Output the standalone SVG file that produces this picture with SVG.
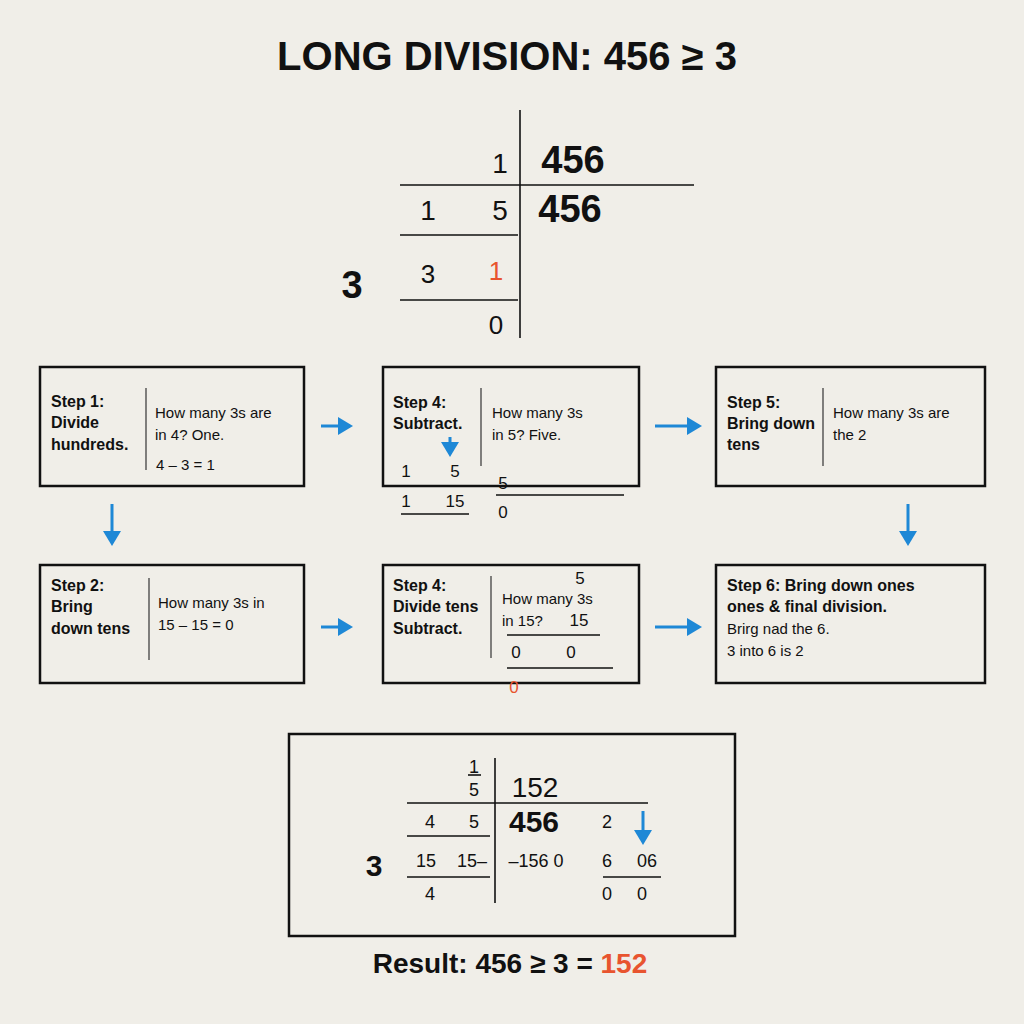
<svg xmlns="http://www.w3.org/2000/svg" width="1024" height="1024" viewBox="0 0 1024 1024">
<defs>
<style>
text{font-family:"Liberation Sans",Arial,sans-serif;fill:#111}
.b{font-weight:bold}
.box{fill:none;stroke:#111;stroke-width:2.5}
.ln{stroke:#111;stroke-width:1.6}
.sep{stroke:#333;stroke-width:1.2}
.arr{stroke:#1e88d6;stroke-width:3;fill:none;marker-end:url(#ah)}
.st{font-size:16px;font-weight:bold}
.tx{font-size:15px}
.red{fill:#e8542f}
</style>
<marker id="ah" markerWidth="6" markerHeight="6" refX="4" refY="3" orient="auto" markerUnits="strokeWidth"><path d="M0,0 L5,3 L0,6 z" fill="#1e88d6"/></marker>
</defs>
<rect width="1024" height="1024" fill="#f0eee8"/>
<text x="507" y="70" text-anchor="middle" class="b" font-size="40">LONG DIVISION: 456 ≥ 3</text>

<g id="top-division">
<line class="ln" x1="520" y1="110" x2="520" y2="338"/>
<line class="ln" x1="400" y1="185" x2="694" y2="185"/>
<line class="ln" x1="400" y1="235" x2="518" y2="235"/>
<line class="ln" x1="400" y1="300" x2="518" y2="300"/>
<text x="500" y="173" font-size="28" text-anchor="middle">1</text>
<text x="573" y="173" font-size="38" class="b" text-anchor="middle">456</text>
<text x="428" y="220" font-size="28" text-anchor="middle">1</text>
<text x="500" y="220" font-size="28" text-anchor="middle">5</text>
<text x="570" y="222" font-size="38" class="b" text-anchor="middle">456</text>
<text x="352" y="298" font-size="38" class="b" text-anchor="middle">3</text>
<text x="428" y="283" font-size="26" text-anchor="middle">3</text>
<text x="496" y="280" font-size="26" text-anchor="middle" class="red">1</text>
<text x="496" y="334" font-size="26" text-anchor="middle">0</text>
</g>

<g id="step1">
<rect class="box" x="40" y="367" width="264" height="119"/>
<line class="sep" x1="146" y1="388" x2="146" y2="470"/>
<text class="st" x="51" y="407">Step 1:</text>
<text class="st" x="51" y="428">Divide</text>
<text class="st" x="51" y="450">hundreds.</text>
<text class="tx" x="155" y="418">How many 3s are</text>
<text class="tx" x="155" y="440">in 4? One.</text>
<text class="tx" x="156" y="470" font-size="13">4 – 3 = 1</text>
</g>

<g id="step4a">
<rect class="box" x="383" y="367" width="256" height="119"/>
<line class="sep" x1="481" y1="388" x2="481" y2="466"/>
<text class="st" x="393" y="408">Step 4:</text>
<text class="st" x="393" y="429">Subtract.</text>
<text class="tx" x="492" y="418">How many 3s</text>
<text class="tx" x="492" y="440">in 5? Five.</text>
<text x="406" y="477" font-size="17" text-anchor="middle">1</text>
<text x="455" y="477" font-size="17" text-anchor="middle">5</text>
<text x="406" y="507" font-size="17" text-anchor="middle">1</text>
<text x="455" y="507" font-size="17" text-anchor="middle">15</text>
<line class="ln" x1="401" y1="514" x2="469" y2="514"/>
<text x="503" y="489" font-size="17" text-anchor="middle">5</text>
<line class="ln" x1="496" y1="495" x2="624" y2="495"/>
<text x="503" y="518" font-size="17" text-anchor="middle">0</text>
</g>

<g id="step5">
<rect class="box" x="716" y="367" width="269" height="119"/>
<line class="sep" x1="823" y1="388" x2="823" y2="466"/>
<text class="st" x="727" y="408">Step 5:</text>
<text class="st" x="727" y="429">Bring down</text>
<text class="st" x="727" y="450">tens</text>
<text class="tx" x="833" y="418">How many 3s are</text>
<text class="tx" x="833" y="440">the 2</text>
</g>

<g id="step2">
<rect class="box" x="40" y="565" width="264" height="118"/>
<line class="sep" x1="149" y1="578" x2="149" y2="660"/>
<text class="st" x="51" y="591">Step 2:</text>
<text class="st" x="51" y="612">Bring</text>
<text class="st" x="51" y="634">down tens</text>
<text class="tx" x="158" y="608">How many 3s in</text>
<text class="tx" x="158" y="630">15 – 15 = 0</text>
</g>

<g id="step4b">
<rect class="box" x="383" y="565" width="256" height="118"/>
<line class="sep" x1="491" y1="576" x2="491" y2="658"/>
<text class="st" x="393" y="591">Step 4:</text>
<text class="st" x="393" y="612">Divide tens</text>
<text class="st" x="393" y="634">Subtract.</text>
<text x="580" y="584" font-size="17" text-anchor="middle">5</text>
<text class="tx" x="502" y="604">How many 3s</text>
<text class="tx" x="502" y="626">in 15?</text>
<text x="579" y="626" font-size="17" text-anchor="middle">15</text>
<line class="ln" x1="507" y1="635" x2="600" y2="635"/>
<text x="516" y="658" font-size="17" text-anchor="middle">0</text>
<text x="571" y="658" font-size="17" text-anchor="middle">0</text>
<line class="ln" x1="507" y1="668" x2="613" y2="668"/>
<text x="514" y="693" font-size="17" text-anchor="middle" class="red">0</text>
</g>

<g id="step6">
<rect class="box" x="716" y="565" width="269" height="118"/>
<text class="st" x="727" y="591">Step 6: Bring down ones</text>
<text class="st" x="727" y="612">ones &amp; final division.</text>
<text class="tx" x="727" y="634">Brirg nad the 6.</text>
<text class="tx" x="727" y="656">3 into 6 is 2</text>
</g>

<g id="connectors">
<line class="arr" x1="321" y1="426" x2="350" y2="426"/>
<line class="arr" x1="655" y1="426" x2="699" y2="426"/>
<line class="arr" x1="321" y1="627" x2="350" y2="627"/>
<line class="arr" x1="655" y1="627" x2="699" y2="627"/>
<line class="arr" x1="112" y1="504" x2="112" y2="543"/>
<line class="arr" x1="908" y1="504" x2="908" y2="543"/>
<line class="arr" x1="450" y1="437" x2="450" y2="454"/>
<line class="arr" x1="643" y1="811" x2="643" y2="842"/>
</g>

<g id="result">
<rect class="box" x="289" y="734" width="446" height="202"/>
<line class="ln" x1="495" y1="758" x2="495" y2="903"/>
<line class="ln" x1="407" y1="803" x2="648" y2="803"/>
<line class="ln" x1="407" y1="836" x2="490" y2="836"/>
<line class="ln" x1="407" y1="877" x2="490" y2="877"/>
<line class="ln" x1="603" y1="877" x2="661" y2="877"/>
<line class="ln" x1="468" y1="775" x2="481" y2="775"/>
<text x="474" y="773" font-size="18" text-anchor="middle">1</text>
<text x="474" y="796" font-size="18" text-anchor="middle">5</text>
<text x="535" y="797" font-size="28" text-anchor="middle">152</text>
<text x="430" y="828" font-size="18" text-anchor="middle">4</text>
<text x="474" y="828" font-size="18" text-anchor="middle">5</text>
<text x="534" y="832" font-size="30" text-anchor="middle" class="b">456</text>
<text x="607" y="828" font-size="18" text-anchor="middle">2</text>
<text x="374" y="876" font-size="30" text-anchor="middle" class="b">3</text>
<text x="426" y="867" font-size="18" text-anchor="middle">15</text>
<text x="472" y="867" font-size="18" text-anchor="middle">15–</text>
<text x="536" y="867" font-size="18" text-anchor="middle">–156 0</text>
<text x="607" y="867" font-size="18" text-anchor="middle">6</text>
<text x="647" y="867" font-size="18" text-anchor="middle">06</text>
<text x="430" y="900" font-size="18" text-anchor="middle">4</text>
<text x="607" y="900" font-size="18" text-anchor="middle">0</text>
<text x="642" y="900" font-size="18" text-anchor="middle">0</text>
</g>
<text x="510" y="973" font-size="28" text-anchor="middle" class="b">Result: 456 ≥ 3 = <tspan class="red">152</tspan></text>
</svg>
